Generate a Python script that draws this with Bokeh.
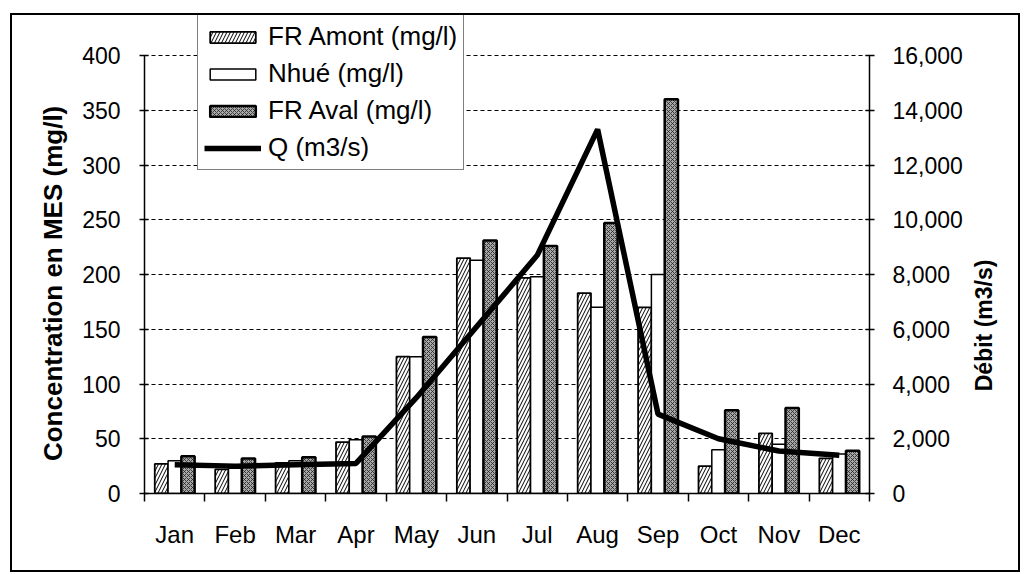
import math
from bokeh.plotting import figure
from bokeh.models import (Range1d, LinearAxis, FixedTicker, NumeralTickFormatter,
                          Legend, LegendItem, ColumnDataSource)
from bokeh.transform import dodge
from bokeh.embed import file_html
from bokeh.resources import INLINE

months = ["Jan", "Feb", "Mar", "Apr", "May", "Jun", "Jul", "Aug", "Sep", "Oct", "Nov", "Dec"]
fr_amont = [27, 22, 28, 47, 125, 215, 197, 183, 170, 25, 55, 32]
nhue = [30, 23, 30, 49, 125, 213, 198, 170, 200, 40, 45, 36]
fr_aval = [34, 32, 33, 52, 143, 231, 226, 247, 360, 76, 78, 39]
q_debit = [1050, 1000, 1050, 1100, 3500, 6100, 8700, 13300, 2900, 2000, 1550, 1400]
left_ticks = [0, 50, 100, 150, 200, 250, 300, 350, 400]
right_ticks = [0, 2000, 4000, 6000, 8000, 10000, 12000, 14000, 16000]

FONT = "Liberation Sans"
NB = "\u00a0"

xs = [i + 0.5 for i in range(len(months))]
src = ColumnDataSource(dict(x=xs, amont=fr_amont, nhue=nhue, aval=fr_aval, q=q_debit))

# frame spans 478 px, of which the axes (0..400) use 438 px; headroom for the legend
head = 478 / 438
p = figure(width=1010, height=559, output_backend="svg", toolbar_location=None,
           x_range=Range1d(0, 12), y_range=Range1d(0, left_ticks[-1] * head),
           min_border_left=134, min_border_right=151, min_border_top=2, min_border_bottom=79,
           y_axis_location=None, x_axis_location=None)
p.outline_line_color = None
p.background_fill_color = None
p.border_fill_color = None
p.styles = {"margin-left": "10px", "margin-top": "13px",
            "outline": "2px solid black", "outline-offset": "-2px"}
p.extra_y_ranges = {"q": Range1d(0, right_ticks[-1] * head)}

p.xgrid.visible = False
p.ygrid.ticker = FixedTicker(ticks=left_ticks)
p.ygrid.grid_line_color = "black"
p.ygrid.grid_line_dash = "4 3"
p.ygrid.grid_line_width = 1

bw = 0.22
r_amont = p.vbar(x=dodge("x", -bw, range=p.x_range), top="amont", width=bw, source=src,
                 fill_color="white", line_color="black", line_width=1.8,
                 hatch_pattern="/", hatch_color="black", hatch_scale=7, hatch_weight=1)
r_nhue = p.vbar(x=dodge("x", 0, range=p.x_range), top="nhue", width=bw, source=src,
                fill_color="white", line_color="black", line_width=1.5)
r_aval = p.vbar(x=dodge("x", bw, range=p.x_range), top="aval", width=bw, source=src,
                fill_color="#a8a8a8", line_color="black", line_width=2.5,
                hatch_pattern="x", hatch_color="#222222", hatch_scale=4, hatch_weight=0.8)
r_q = p.line(x="x", y="q", source=src, y_range_name="q", line_color="black", line_width=5.5)

# axes
left = LinearAxis(ticker=FixedTicker(ticks=left_ticks), bounds=(0, left_ticks[-1]))
right = LinearAxis(y_range_name="q", ticker=FixedTicker(ticks=right_ticks),
                   formatter=NumeralTickFormatter(format="0,0"), bounds=(0, right_ticks[-1]))
bottom = LinearAxis(ticker=FixedTicker(ticks=xs, minor_ticks=list(range(13))),
                    major_label_overrides={x: m for x, m in zip(xs, months)})
left.axis_label = "Concentration en MES (mg/l)" + NB * 8
right.axis_label = NB * 16 + "Débit (m3/s)"
for ax in (left, right, bottom):
    ax.axis_line_color = "black"
    ax.axis_line_width = 1.5
    ax.major_tick_line_color = "black"
    ax.major_tick_line_width = 1.5
    ax.minor_tick_line_color = None
    ax.major_label_text_font = FONT
    ax.major_label_text_font_size = "23px"
    ax.major_label_text_color = "black"
    ax.axis_label_text_font = FONT
    ax.axis_label_text_font_style = "bold"
    ax.axis_label_text_color = "black"
for ax in (left, right):
    ax.major_tick_in = 4
    ax.major_tick_out = 5
left.major_label_standoff = 19
right.major_label_standoff = 18
left.axis_label_text_font_size = "26px"
left.axis_label_standoff = 11
right.axis_label_text_font_size = "23px"
right.axis_label_standoff = 18
right.axis_label_orientation = math.pi / 2
right.axis_label_align = "start"
bottom.major_label_text_font_size = "24px"
bottom.major_tick_in = 0
bottom.major_tick_out = 0
bottom.minor_tick_line_color = "black"
bottom.minor_tick_line_width = 1.5
bottom.minor_tick_in = 0
bottom.minor_tick_out = 8
bottom.major_label_standoff = 19
p.add_layout(left, "left")
p.add_layout(right, "right")
p.add_layout(bottom, "below")

legend = Legend(items=[
    LegendItem(label="FR Amont (mg/l)", renderers=[r_amont]),
    LegendItem(label="Nhué (mg/l)", renderers=[r_nhue]),
    LegendItem(label="FR Aval (mg/l)", renderers=[r_aval]),
    LegendItem(label="Q (m3/s)", renderers=[r_q]),
], location=(53, 323))
legend.label_text_font = FONT
legend.label_text_font_size = "26px"
legend.label_text_color = "black"
legend.glyph_width = 57
legend.glyph_height = 14
legend.label_height = 26
legend.spacing = 6
legend.padding = 6
legend.margin = 0
legend.label_standoff = 7
legend.border_line_color = "black"
legend.border_line_width = 1.5
legend.background_fill_color = "white"
legend.background_fill_alpha = 1
p.add_layout(legend, "center")

open("out.html", "w").write(file_html(p, INLINE))
